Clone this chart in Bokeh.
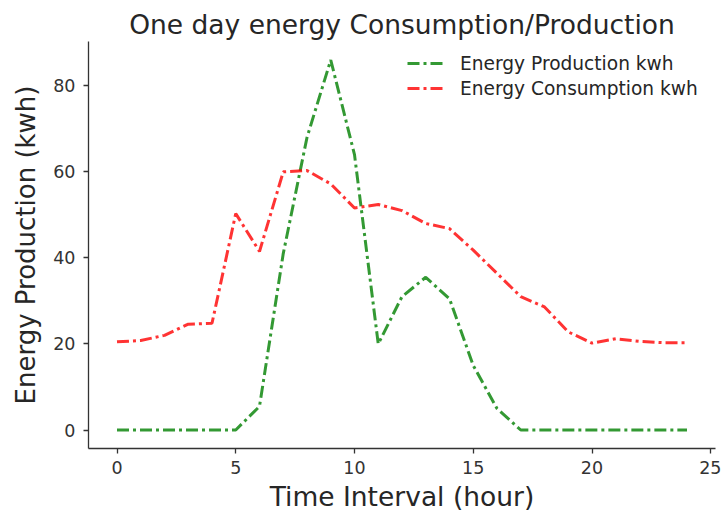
from bokeh.plotting import figure
from bokeh.embed import file_html
from bokeh.resources import INLINE
from bokeh.models import Range1d, FixedTicker, Legend, LegendItem

hours = list(range(25))
production = [0, 0, 0, 0, 0, 0, 5.5, 41, 68, 86, 64, 20, 31, 35.5, 30.5, 15, 5, 0, 0, 0, 0, 0, 0, 0, 0]
consumption = [20.5, 20.8, 22, 24.6, 24.8, 50.3, 41.5, 60, 60.3, 57.2, 51.6, 52.4, 51, 48, 46.8, 41.8, 36.4, 31, 28.6, 22.8, 20.2, 21.2, 20.6, 20.3, 20.3]
x_ticks = [0, 5, 10, 15, 20, 25]
y_ticks = [0, 20, 40, 60, 80]

FONT = "DejaVu Sans"

p = figure(output_backend="svg", toolbar_location=None,
           x_range=Range1d(-1.2, 25.2), y_range=Range1d(-4.3, 90.3),
           min_border_left=88, min_border_top=41, min_border_right=6, min_border_bottom=66,
           title="One day energy Consumption/Production")
p.frame_width = 627
p.frame_height = 407

p.title.align = "center"
p.title.vertical_align = "top"
p.title.text_font = FONT
p.title.text_font_size = "26.5px"
p.title.text_line_height = 0.9
p.title.text_font_style = "normal"
p.title.text_color = "#262626"
p.title.standoff = 0

p.outline_line_color = None
p.xgrid.visible = False
p.ygrid.visible = False

for ax in (p.xaxis[0], p.yaxis[0]):
    ax.axis_line_color = "#333333"
    ax.axis_line_width = 1.3
    ax.major_tick_line_color = "#333333"
    ax.major_tick_line_width = 1.3
    ax.minor_tick_line_color = None
    ax.major_tick_out = 5
    ax.major_tick_in = 0
    ax.major_label_text_font = FONT
    ax.major_label_text_font_size = "17.5px"
    ax.major_label_text_color = "#333333"
    ax.axis_label_text_font = FONT
    ax.axis_label_text_font_style = "normal"
    ax.axis_label_text_color = "#262626"

p.xaxis[0].axis_label_text_font_size = "26.5px"
p.yaxis[0].axis_label_text_font_size = "26px"
p.xaxis[0].major_label_standoff = 7
p.yaxis[0].major_label_standoff = 8
p.xaxis[0].axis_label_standoff = 4
p.yaxis[0].axis_label_standoff = 9

p.xaxis.ticker = FixedTicker(ticks=x_ticks)
p.yaxis.ticker = FixedTicker(ticks=y_ticks)
p.xaxis.axis_label = "Time Interval (hour)"
p.yaxis.axis_label = "Energy Production (kwh)"

r1 = p.line(hours, production, line_color="green", line_alpha=0.8, line_width=3, line_dash="12 4 3 4")
r2 = p.line(hours, consumption, line_color="red", line_alpha=0.8, line_width=3, line_dash="12 4 3 4")

legend = Legend(items=[LegendItem(label="Energy Production kwh", renderers=[r1]),
                       LegendItem(label="Energy Consumption kwh", renderers=[r2])],
                location=(319, 349))
legend.border_line_color = None
legend.background_fill_alpha = 0
legend.label_text_font = FONT
legend.label_text_font_size = "18.6px"
legend.label_text_color = "#262626"
legend.glyph_width = 37
legend.glyph_height = 22
legend.label_height = 22
legend.label_standoff = 16
legend.spacing = 3
legend.margin = 0
legend.padding = 0
p.add_layout(legend)

open("out.html", "w").write(file_html(p, INLINE))
